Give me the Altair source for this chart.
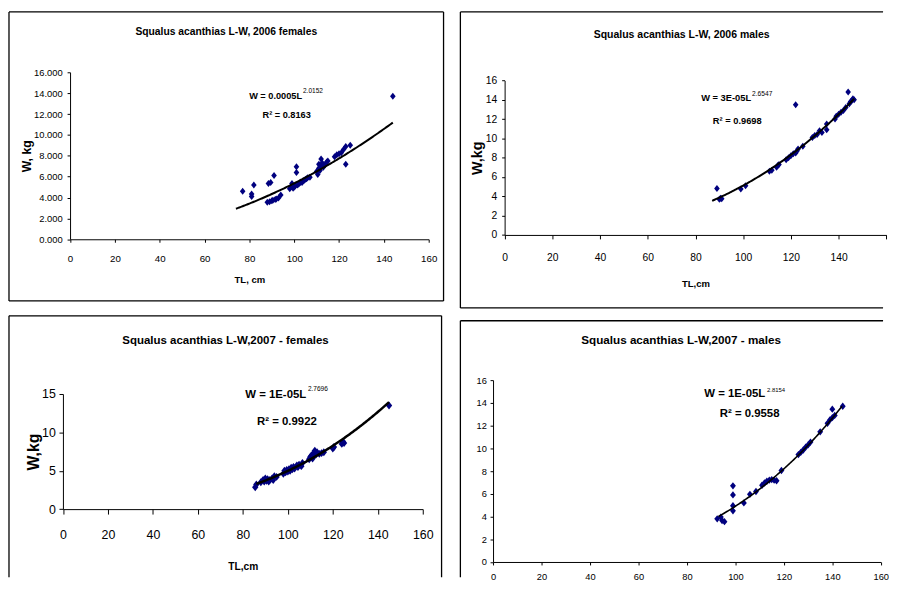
import altair as alt
import pandas as pd

NAVY = "#00007f"
SANS = "Liberation Sans, Arial, sans-serif"

# ---------------- data ----------------
titles = [
    "Squalus acanthias L-W, 2006 females",
    "Squalus acanthias L-W, 2006 males",
    "Squalus acanthias L-W,2007 - females",
    "Squalus acanthias L-W,2007 - males",
]
eq_main = ["W = 0.0005L", "W = 3E-05L", "W = 1E-05L", "W = 1E-05L"]
eq_exp = ["2.0152", "2.6547", "2.7696", "2.8154"]
eq_r2 = ["R² = 0.8163", "R² = 0.9698", "R² = 0.9922", "R² = 0.9558"]
x_titles = ["TL, cm", "TL,cm", "TL,cm", None]
y_titles = ["W, kg", "W,kg", "W,kg", None]
x_ticks = [0, 20, 40, 60, 80, 100, 120, 140, 160]
y_max = [16, 16, 15, 16]
y_step = [2, 2, 5, 2]
y_format = [".3f", "d", "d", "d"]

# power trend lines W = a * L^b (as drawn)
fit_a = [0.0005, 2.51e-5, 1.44e-5, 1.148e-5]
fit_b = [2.0152, 2.6547, 2.7696, 2.8154]
fit_from = [74, 87, 86, 93]
fit_to = [144, 146.5, 145, 144]

f06_L = [77, 81, 81, 82, 88.5, 89.5, 91, 88, 89, 90, 90.5, 91.5, 92, 93, 94,
         98, 98.5, 99, 99.5, 100, 100.5, 101, 101, 101.5, 102, 102.5, 103, 103.5,
         104, 104.5, 105, 105.5, 106, 107, 110, 110.5, 111, 111, 111.5, 112, 112,
         112.5, 113, 114, 114.5, 115, 118, 119, 120, 121, 122, 123, 125, 123, 144]
f06_W = [4.6, 4.35, 4.1, 5.2, 5.35, 5.45, 6.1, 3.55, 3.6, 3.7, 3.75, 3.8, 3.85, 3.95, 4.25,
         4.85, 5.0, 5.35, 4.9, 5.0, 5.1, 6.95, 6.4, 5.2, 5.3, 5.4, 5.5, 5.45,
         5.6, 5.65, 5.75, 5.8, 5.9, 5.95, 6.5, 6.2, 6.8, 7.2, 6.6, 7.7, 7.0,
         7.3, 6.9, 7.2, 7.4, 7.5, 7.9, 8.1, 8.2, 8.3, 8.6, 8.9, 9.0, 7.2, 13.7]

m06_L = [89, 90, 90.5, 91, 99, 101, 111, 112, 114, 114.5, 115, 118, 119, 120, 121,
         122, 122.5, 123, 122, 125, 129, 130, 131, 132, 133, 135, 135, 138.5, 139,
         140, 141, 142, 143, 144, 144.5, 145, 145.5, 146, 146.5]
m06_W = [4.8, 3.7, 3.8, 3.75, 4.75, 5.1, 6.6, 6.7, 7.0, 7.2, 7.3, 7.8, 8.0, 8.2, 8.4,
         8.5, 8.7, 8.9, 13.5, 9.2, 10.1, 10.3, 10.4, 10.8, 10.6, 10.9, 11.5, 12.0, 12.3,
         12.5, 12.7, 12.9, 13.2, 14.8, 13.6, 13.8, 13.9, 14.1, 14.0]

f07_L = [85.5, 86, 88, 89, 89.5, 90, 90.5, 91, 91.5, 92, 93, 93.5, 94, 95,
         98, 98.5, 99, 99.5, 100, 100.5, 101, 101.5, 102, 102.5, 103, 104, 104.5,
         105, 106, 106.5, 109.5, 110, 110.5, 111, 111.5, 112, 112.5, 113, 114, 115,
         116, 120, 120.5, 124, 124.5, 125, 145]
f07_W = [2.85, 3.2, 3.5, 3.8, 3.6, 4.0, 3.7, 3.9, 3.6, 3.8, 4.0, 3.8, 4.3, 4.2,
         4.6, 5.0, 4.8, 5.1, 4.9, 5.2, 5.0, 5.4, 5.2, 5.5, 5.3, 5.7, 5.5,
         5.8, 5.6, 6.0, 6.5, 6.8, 7.0, 6.6, 7.3, 7.6, 7.1, 7.4, 7.2, 7.3,
         7.4, 7.9, 8.1, 8.5, 8.8, 8.6, 13.5]

m07_L = [92.5, 94, 94.5, 95.5, 99, 99, 99, 99, 103.5, 106, 108.5, 111, 112, 113,
         114, 115, 116, 117, 119, 126, 127, 128, 129, 130, 131, 135, 138, 139, 140,
         140, 141, 144.3]
m07_W = [3.8, 3.95, 3.65, 3.55, 6.7, 5.9, 4.95, 4.5, 5.2, 5.95, 6.2, 6.75, 6.95, 7.1,
         7.2, 7.25, 7.2, 7.15, 8.05, 9.45, 9.65, 9.85, 10.1, 10.3, 10.55, 11.45, 12.2, 12.5, 12.7,
         13.45, 12.9, 13.7]

pts_L = [f06_L, m06_L, f07_L, m07_L]
pts_W = [f06_W, m06_W, f07_W, m07_W]

# ---------------- layout / style ----------------
LAYOUT = [
    dict(w=439, h=292, xr=(61.7, 424), yr=(229.7, 61), borders="ltrb",
         xtick=3, xpad=11.6, xlab=9.8, ytick=3, ypad=5, ylab=9.5,
         xt_size=9.6, xt_y=40.6, yt_size=12.4, yt_x=-44, hide160=False,
         title_x=219.5, title_y=20, title_size=10.4,
         eq_x=296, eq_y=85.3, sup_x=297, sup_y=80.3, r2_x=280.5, r2_y=103.7,
         eq_size=9.3, sup_size=6.6, sym=50, lw=2),
    dict(w=427, h=299, xr=(44.7, 430.3), yr=(225.3, 69.3), borders="ltb",
         xtick=4, xpad=14.3, xlab=10.4, ytick=3, ypad=5, ylab=10.4,
         xt_size=9.6, xt_y=48.7, yt_size=14.5, yt_x=-27, hide160=True,
         title_x=223.5, title_y=23.7, title_size=10.6,
         eq_x=293.7, eq_y=87, sup_x=294.7, sup_y=83.2, r2_x=279.7, r2_y=110,
         eq_size=9.4, sup_size=6.7, sym=50, lw=2),
    dict(w=437, h=264, xr=(54.5, 418), yr=(195.3, 79), borders="ltr",
         xtick=5, xpad=14.6, xlab=12.5, ytick=4, ypad=3.7, ylab=12.5,
         xt_size=10.3, xt_y=58.4, yt_size=16, yt_x=-30, hide160=False,
         title_x=218.7, title_y=25.3, title_size=11.6,
         eq_x=300.3, eq_y=80, sup_x=302, sup_y=73.7, r2_x=280.8, r2_y=107.8,
         eq_size=11.5, sup_size=6.6, sym=64, lw=2.5),
    dict(w=427, h=259, xr=(33, 424.7), yr=(243.7, 60), borders="lt",
         xtick=3, xpad=8.2, xlab=9.4, ytick=3, ypad=3.7, ylab=9.4,
         xt_size=9.8, xt_y=40, yt_size=14, yt_x=-30, hide160=False,
         title_x=223, title_y=19.7, title_size=11.8,
         eq_x=308, eq_y=74.3, sup_x=309.7, sup_y=70.3, r2_x=292.2, r2_y=94.5,
         eq_size=11.5, sup_size=6, sym=55, lw=1.6),
]

DIAMOND = "M0,-1L0.8,0L0,1L-0.8,0Z"
ONE = pd.DataFrame({"k": [0]})


def txt(text, x, y, size, weight="bold", align="center"):
    return alt.Chart(ONE).mark_text(
        text=text, align=align, baseline="middle", font=SANS,
        fontSize=size, fontWeight=weight, color="black"
    ).encode(x=alt.value(x), y=alt.value(y))


def border(L):
    w, h = L["w"], L["h"]
    out = []
    rule = dict(color="black", strokeWidth=1.3)
    if "l" in L["borders"]:
        out.append(alt.Chart(ONE).mark_rule(**rule).encode(
            x=alt.value(0), y=alt.value(0), y2=alt.value(h)))
    if "r" in L["borders"]:
        out.append(alt.Chart(ONE).mark_rule(**rule).encode(
            x=alt.value(w), y=alt.value(0), y2=alt.value(h)))
    if "t" in L["borders"]:
        out.append(alt.Chart(ONE).mark_rule(**rule).encode(
            x=alt.value(0), x2=alt.value(w), y=alt.value(0)))
    if "b" in L["borders"]:
        out.append(alt.Chart(ONE).mark_rule(**rule).encode(
            x=alt.value(0), x2=alt.value(w), y=alt.value(h)))
    return out


def panel(i):
    L = LAYOUT[i]
    df = pd.DataFrame({"L": pts_L[i], "W": pts_W[i]})
    xs = alt.Scale(domain=[0, 160], range=list(L["xr"]), nice=False, zero=False)
    ys = alt.Scale(domain=[0, y_max[i]], range=list(L["yr"]), nice=False)

    xkw = dict(
        values=x_ticks, offset=L["yr"][0] - L["h"], grid=False, labelAngle=0,
        tickSize=L["xtick"], labelPadding=L["xpad"], labelFont=SANS,
        labelFontSize=L["xlab"], labelFlush=False, labelOverlap=False,
        domainColor="black", tickColor="black", labelColor="black",
    )
    if L["hide160"]:
        xkw["labelExpr"] = "datum.value >= 160 ? '' : datum.label"
    if x_titles[i]:
        xkw.update(title=x_titles[i], titleFont=SANS, titleFontSize=L["xt_size"],
                   titleFontWeight="bold", titleColor="black", titleBaseline="middle",
                   titleY=L["xt_y"])
    else:
        xkw.update(title=None)

    ykw = dict(
        values=list(range(0, y_max[i] + 1, y_step[i])), offset=-L["xr"][0], grid=False,
        tickSize=L["ytick"], labelPadding=L["ypad"], labelFont=SANS,
        labelFontSize=L["ylab"], labelFlush=False, labelOverlap=False,
        format=y_format[i],
        domainColor="black", tickColor="black", labelColor="black",
    )
    if y_titles[i]:
        ykw.update(title=y_titles[i], titleFont=SANS, titleFontSize=L["yt_size"],
                   titleFontWeight="bold", titleColor="black", titleBaseline="middle",
                   titleX=L["yt_x"])
    else:
        ykw.update(title=None)

    xenc = alt.X("L:Q", scale=xs, axis=alt.Axis(**xkw))
    yenc = alt.Y("W:Q", scale=ys, axis=alt.Axis(**ykw))

    pts = alt.Chart(df).mark_point(
        shape=DIAMOND, filled=True, color=NAVY, size=L["sym"], opacity=1, strokeWidth=0
    ).encode(x=xenc, y=yenc)

    line = alt.Chart(
        alt.sequence(fit_from[i], fit_to[i] + 0.01, 0.5, as_="L")
    ).transform_calculate(
        W=f"{fit_a[i]} * pow(datum.L, {fit_b[i]})"
    ).mark_line(color="black", strokeWidth=L["lw"]).encode(x=xenc, y=yenc)

    layers = [
        pts, line,
        txt(titles[i], L["title_x"], L["title_y"], L["title_size"]),
        txt(eq_main[i], L["eq_x"], L["eq_y"], L["eq_size"], align="right"),
        txt(eq_exp[i], L["sup_x"], L["sup_y"], L["sup_size"], weight="normal", align="left"),
        txt(eq_r2[i], L["r2_x"], L["r2_y"], L["eq_size"]),
    ] + border(L)
    return alt.layer(*layers).properties(width=L["w"], height=L["h"])


left = alt.vconcat(panel(0), panel(2), spacing=13)
right = alt.vconcat(panel(1), panel(3), spacing=11)

chart = alt.hconcat(left, right, spacing=15).properties(
    padding=0, background="white"
).configure_view(
    stroke=None, fill="white"
)

chart.save("out.html", embed_options={"renderer": "svg", "actions": False})
